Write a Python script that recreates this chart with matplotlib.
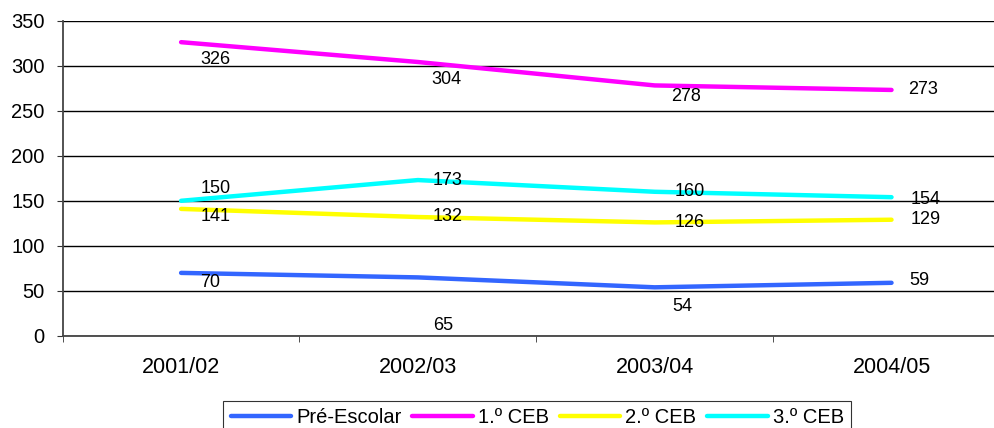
import matplotlib.pyplot as plt
from matplotlib.ticker import FixedLocator, MultipleLocator

plt.rcParams['font.family'] = ['Liberation Sans', 'DejaVu Sans']

anos = ['2001/02', '2002/03', '2003/04', '2004/05']
pre_escolar = [70, 65, 54, 59]
ceb1 = [326, 304, 278, 273]
ceb2 = [141, 132, 126, 129]
ceb3 = [150, 173, 160, 154]

series = [
    ('Pré-Escolar', pre_escolar, '#3366ff', [(19, -10), (15, -48), (18, -19), (18, 2)]),
    ('1.º CEB', ceb1, '#ff00ff', [(19, -17), (13, -17), (16, -11), (17, 0)]),
    ('2.º CEB', ceb2, '#ffff00', [(20, -8), (15, 1), (20, 0), (19, 0)]),
    ('3.º CEB', ceb3, '#00ffff', [(20, 12), (15, 0), (20, 0), (19, -2)]),
]

fig = plt.figure(figsize=(9.95, 4.28), dpi=100)
ax = fig.add_axes([0.063, 0.215, 0.952, 0.737])

x = range(len(anos))
for nome, valores, cor, desloc in series:
    ax.plot(x, valores, color=cor, lw=3.2, solid_capstyle='round', label=nome, zorder=3)
    for i, v in enumerate(valores):
        dx, dy = desloc[i]
        ax.annotate(str(v), (i, v), xytext=(dx * 0.72, dy * 0.72), textcoords='offset points',
                    ha='left', va='center', fontsize=13, color='black', zorder=4)

ax.set_xlim(-0.5, 3.5)
ax.set_ylim(0, 350)
ax.yaxis.set_major_locator(MultipleLocator(50))
ax.grid(axis='y', color='black', lw=1)
ax.set_axisbelow(True)

ax.set_xticks(list(x))
ax.set_xticklabels(anos, fontsize=15.5)
ax.xaxis.set_minor_locator(FixedLocator([-0.5, 0.5, 1.5, 2.5, 3.5]))
ax.tick_params(axis='x', which='major', length=0, pad=15)
ax.tick_params(axis='x', which='minor', length=4, direction='out', color='#333333')
ax.tick_params(axis='y', length=4, pad=9, labelsize=14.5, color='#333333')

for lado in ['top', 'right']:
    ax.spines[lado].set_visible(False)
ax.spines['left'].set_color('#444444')
ax.spines['bottom'].set_color('#444444')
ax.spines['left'].set_linewidth(1.3)
ax.spines['bottom'].set_linewidth(1.3)

leg = fig.legend(loc='center', bbox_to_anchor=(0.54, 0.025), ncol=4, fontsize=14.5,
                 frameon=True, fancybox=False, edgecolor='black', handlelength=3.0,
                 handletextpad=0.25, columnspacing=0.55, borderpad=0.35)
leg.get_frame().set_linewidth(0.8)
for linha in leg.get_lines():
    linha.set_linewidth(3.2)

fig.savefig('out.png', dpi=100)
